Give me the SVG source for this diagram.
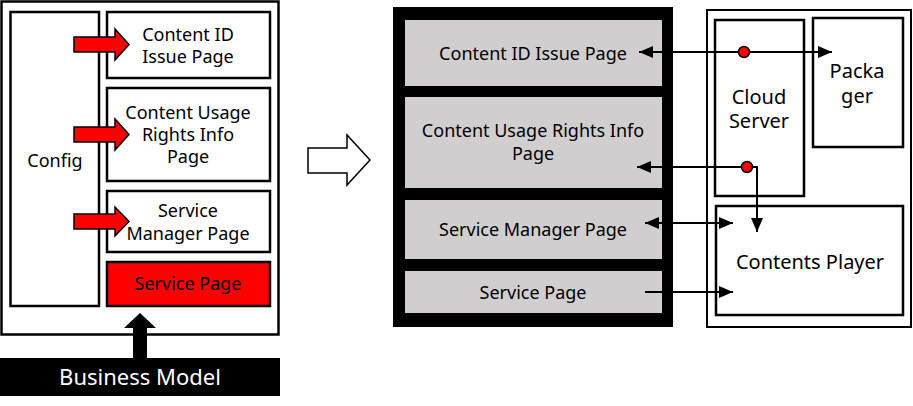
<svg xmlns="http://www.w3.org/2000/svg" width="913" height="406" viewBox="0 0 913 406">
<style>
text{font-family:"Noto Sans","Liberation Sans",sans-serif;font-size:18px;fill:#000;text-anchor:middle}
.big{font-size:20px}
.box{fill:#fff;stroke:#000;stroke-width:2.5}
.gray{fill:#d0cece}
.conn{fill:none;stroke:#000;stroke-width:2}
.red{fill:#ff0000;stroke:#000;stroke-width:1.5}
</style>
<defs>
<marker id="ah" viewBox="0 0 14 12" refX="14" refY="6" markerWidth="14" markerHeight="12" markerUnits="userSpaceOnUse" orient="auto-start-reverse">
<path d="M0,0 L14,6 L0,12 z" fill="#000"/>
</marker>
</defs>
<rect width="913" height="406" fill="#fff"/>

<g id="left-panel">
<rect class="box" x="1.5" y="1.5" width="277" height="333"/>
</g>
<g id="config">
<rect class="box" x="10.5" y="12" width="88.5" height="294"/>
<text x="55" y="167">Config</text>
</g>
<g id="left-content-id">
<rect class="box" x="107" y="12" width="163" height="66"/>
<text x="188" y="41">Content ID</text>
<text x="188" y="63">Issue Page</text>
</g>
<g id="left-content-usage">
<rect class="box" x="107" y="88" width="163" height="93"/>
<text x="188" y="119">Content Usage</text>
<text x="188" y="141">Rights Info</text>
<text x="188" y="163">Page</text>
</g>
<g id="left-service-manager">
<rect class="box" x="107" y="191" width="163" height="61"/>
<text x="188" y="217">Service</text>
<text x="188" y="240">Manager Page</text>
</g>
<g id="left-service-page">
<rect x="107" y="262" width="163" height="44" fill="#ff0000" stroke="#000" stroke-width="2.5"/>
<text x="188" y="290">Service Page</text>
</g>
<g id="red-arrows">
<polygon class="red" points="74,37 115,37 115,29 129,44.5 115,60 115,52 74,52"/>
<polygon class="red" points="74,127 115,127 115,119 129,134.5 115,150 115,142 74,142"/>
<polygon class="red" points="74,214 115,214 115,207 129,221.5 115,236 115,229 74,229"/>
</g>
<g id="business-model">
<rect x="0" y="358" width="280" height="38" fill="#000"/>
<polygon points="133,358 133,328 124,328 140,313 156,328 147,328 147,358" fill="#000"/>
<text x="140" y="385" style="font-size:22px;fill:#fff">Business Model</text>
</g>

<g id="transform-arrow">
<polygon points="308,148 347,148 347,135 370,160 347,185 347,173 308,173" fill="#fff" stroke="#000" stroke-width="1.5"/>
</g>

<g id="middle-panel">
<rect x="393" y="7" width="280" height="320" fill="#000"/>
</g>
<g id="mid-content-id">
<rect class="gray" x="405" y="20" width="257" height="66"/>
<text x="533" y="60">Content ID Issue Page</text>
</g>
<g id="mid-content-usage">
<rect class="gray" x="405" y="97" width="257" height="91"/>
<text x="533" y="137">Content Usage Rights Info</text>
<text x="533" y="160">Page</text>
</g>
<g id="mid-service-manager">
<rect class="gray" x="405" y="200" width="257" height="59"/>
<text x="533" y="236">Service Manager Page</text>
</g>
<g id="mid-service-page">
<rect class="gray" x="405" y="271" width="257" height="42"/>
<text x="533" y="299">Service Page</text>
</g>

<g id="right-panel">
<rect fill="#fff" stroke="#000" stroke-width="2" x="707" y="10" width="204" height="317"/>
</g>
<g id="cloud-server">
<rect class="box" x="715" y="20" width="89" height="176"/>
<text class="big" x="759" y="103.5">Cloud</text>
<text class="big" x="759" y="128">Server</text>
</g>
<g id="packager">
<rect class="box" x="813" y="18" width="90" height="129"/>
<text class="big" x="857" y="78">Packa</text>
<text class="big" x="857" y="102.5">ger</text>
</g>
<g id="contents-player">
<rect class="box" x="716" y="206" width="187" height="109"/>
<text class="big" x="810" y="269">Contents Player</text>
</g>

<g id="connectors">
<path class="conn" d="M744,52 H639" marker-end="url(#ah)"/>
<path class="conn" d="M744,52 H832" marker-end="url(#ah)"/>
<path class="conn" d="M747,167 H637" marker-end="url(#ah)"/>
<path class="conn" d="M747,167 H757 V232" marker-end="url(#ah)"/>
<path class="conn" d="M645,223 H733" marker-start="url(#ah)" marker-end="url(#ah)"/>
<path class="conn" d="M645,292 H733" marker-end="url(#ah)"/>
<circle cx="744" cy="52" r="5.5" fill="#ff0000" stroke="#000" stroke-width="1.5"/>
<circle cx="747" cy="167" r="5.5" fill="#ff0000" stroke="#000" stroke-width="1.5"/>
</g>
</svg>
